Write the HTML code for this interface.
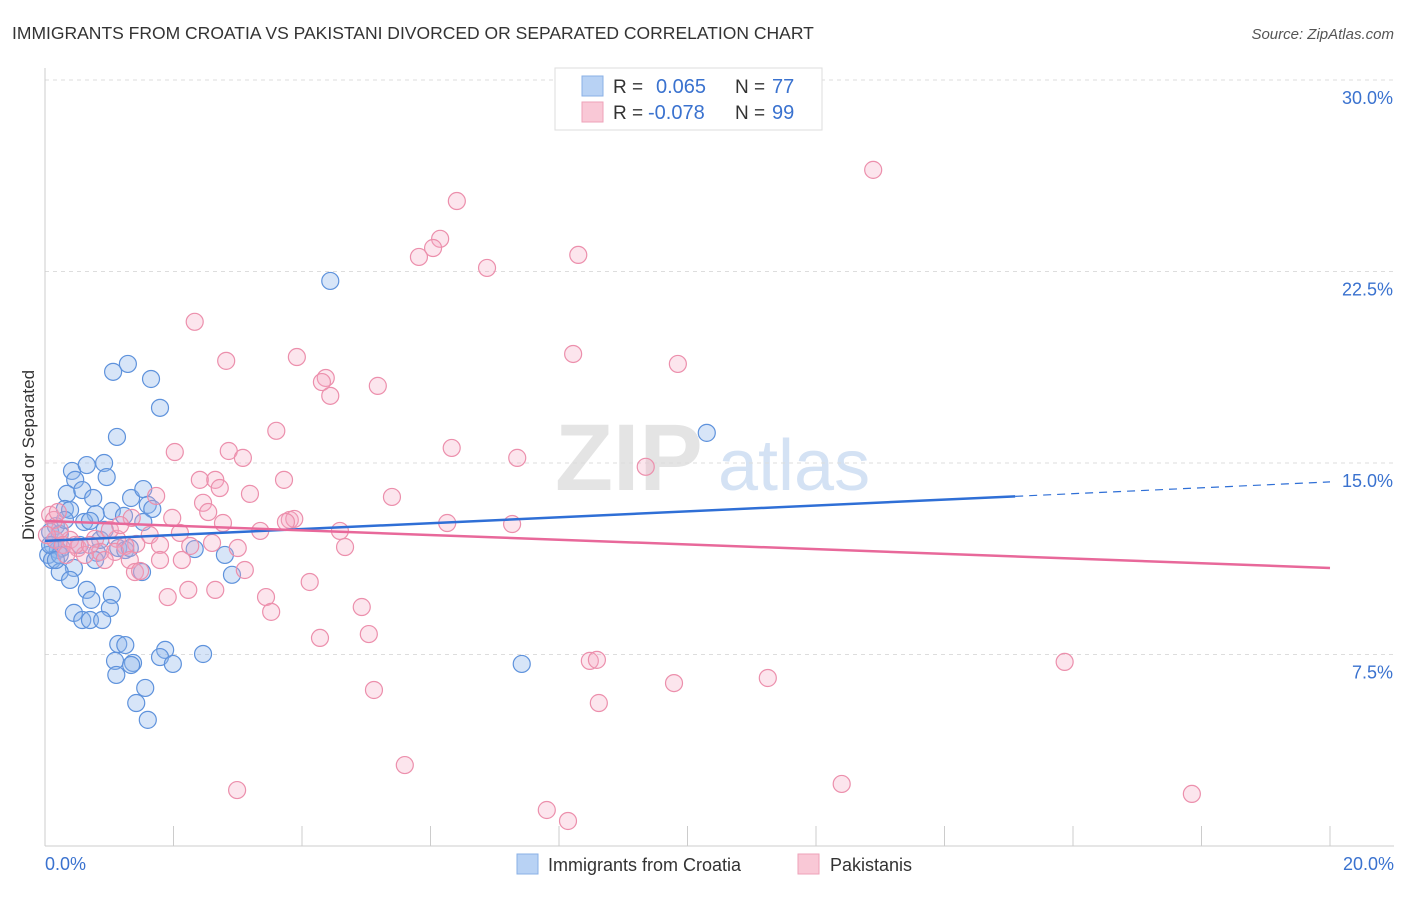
<!DOCTYPE html>
<html><head><meta charset="utf-8"><style>
body{margin:0;background:#fff;font-family:"Liberation Sans",sans-serif;}
svg text{font-family:"Liberation Sans",sans-serif;}
</style></head><body>
<svg id="chart" width="1406" height="892" xmlns="http://www.w3.org/2000/svg">
<text x="12" y="39" font-size="17.5" fill="#333">IMMIGRANTS FROM CROATIA VS PAKISTANI DIVORCED OR SEPARATED CORRELATION CHART</text>
<text x="1394" y="39" font-size="15" fill="#555" font-style="italic" text-anchor="end">Source: ZipAtlas.com</text>
<text x="555" y="490" font-size="95" fill="#e4e4e4" font-family="Liberation Serif" font-weight="bold">ZIP</text>
<text x="718" y="490" font-size="72" fill="#d4e2f4">atlas</text>
<g id="grid"></g>
<g id="axes"></g>
<g id="pts"></g>
<g id="trends"></g>
<text transform="translate(34,455) rotate(-90)" font-size="17" fill="#333" text-anchor="middle">Divorced or Separated</text>
<g>
<rect x="555" y="68" width="267" height="62" fill="#fff" stroke="#ddd"/>
<rect x="582" y="76" width="21" height="20" fill="#b8d2f4" stroke="#8ab0e6"/>
<rect x="582" y="102" width="21" height="20" fill="#f9c8d6" stroke="#eea2b8"/>
<text x="613" y="93" font-size="19" fill="#333">R =</text>
<text x="656" y="93" font-size="20" fill="#3a72cf">0.065</text>
<text x="735" y="93" font-size="19" fill="#333">N =</text>
<text x="772" y="93" font-size="20" fill="#3a72cf">77</text>
<text x="613" y="119" font-size="19" fill="#333">R =</text>
<text x="648" y="119" font-size="20" fill="#3a72cf">-0.078</text>
<text x="735" y="119" font-size="19" fill="#333">N =</text>
<text x="772" y="119" font-size="20" fill="#3a72cf">99</text>
</g>
<g>
<rect x="517" y="854" width="21" height="20" fill="#b8d2f4" stroke="#8ab0e6"/>
<text x="548" y="871" font-size="18" fill="#333">Immigrants from Croatia</text>
<rect x="798" y="854" width="21" height="20" fill="#f9c8d6" stroke="#eea2b8"/>
<text x="830" y="871" font-size="18" fill="#333">Pakistanis</text>
</g>
</svg>
<script>
const blueX=[4.44,1.29,1.06,1.65,1.79,1.12,10.30,.42,.65,.92,.47,.96,.34,.58,.75,1.34,1.53,1.60,.31,.39,.79,1.04,1.23,1.67,.61,.70,1.53,.17,.08,.23,.12,.20,.05,.11,.26,.81,.78,1.14,1.25,1.32,2.33,2.80,.45,.23,.39,1.51,2.91,.65,1.04,.72,.45,1.01,.58,.70,.89,1.14,1.25,1.87,1.79,2.46,1.09,1.37,1.34,1.99,7.42,1.11,1.56,1.42,1.60,.23,.16,.31,.86,.08,.17,.54,.93];
const blueY=[22.13,18.88,18.57,18.29,17.16,16.02,16.18,14.69,14.92,15.00,14.34,14.45,13.79,13.94,13.63,13.63,13.98,13.36,13.20,13.16,13.00,13.12,12.93,13.20,12.69,12.73,12.69,12.53,12.30,12.22,11.79,11.59,11.40,11.20,11.67,11.48,11.20,11.67,11.59,11.67,11.63,11.40,10.89,10.73,10.42,10.73,10.62,10.03,9.83,9.64,9.13,9.32,8.85,8.85,8.85,7.91,7.87,7.68,7.40,7.52,7.25,7.17,7.09,7.13,7.13,6.70,6.19,5.60,4.94,11.40,11.99,12.77,11.99,11.79,11.20,11.79,12.38];
const pinkX=[12.89,6.41,6.15,6.04,5.82,6.88,8.30,2.33,2.82,3.92,8.22,9.85,4.37,4.31,5.18,4.44,3.60,2.02,2.86,6.33,7.35,9.35,3.08,2.41,2.65,3.72,2.72,1.73,3.19,5.40,2.46,2.54,1.98,1.35,2.77,3.81,3.88,3.75,6.26,7.27,4.59,3.35,2.10,1.63,.78,1.12,1.42,1.79,1.25,2.26,3.00,4.67,2.60,.86,1.09,.39,.16,.23,.08,.28,.51,.62,1.32,1.79,2.13,3.11,1.40,1.48,4.12,2.65,1.91,2.23,3.44,3.52,4.93,4.28,5.04,8.48,8.59,15.87,9.79,11.25,5.12,8.62,5.60,2.99,12.40,17.85,7.81,8.14,.47,.70,1.01,.33,.14,1.17,.03,.20,.93];
const pinkY=[26.48,25.26,23.78,23.42,23.07,22.64,23.15,20.53,19.00,19.15,19.27,18.88,18.33,18.17,18.02,17.63,16.26,15.43,15.47,15.59,15.20,14.85,15.20,14.34,14.34,14.34,14.02,13.71,13.79,13.67,13.44,13.08,12.85,12.85,12.65,12.77,12.81,12.69,12.65,12.61,12.34,12.34,12.26,12.18,12.03,12.03,11.83,11.79,11.75,11.75,11.67,11.71,11.87,11.52,11.52,11.99,11.99,12.38,12.97,11.79,11.67,11.40,11.20,11.20,11.20,10.81,10.73,10.77,10.34,10.03,9.75,10.03,9.75,9.17,9.36,8.15,8.30,7.25,7.29,7.21,6.38,6.58,6.11,5.60,3.17,2.19,2.43,2.04,1.41,0.98,11.79,11.79,12.38,11.40,12.77,12.57,12.18,13.08,11.20];
const blueTrend=[11.95,14.26];
const blueSolidEnd=15.1;
const pinkTrend=[12.73,10.89];
const yTicks=[7.5,15.0,22.5,30.0];
const yTickLabels=["7.5%","15.0%","22.5%","30.0%"];
const xTicks=[0,2,4,6,8,10,12,14,16,18,20];
const xTickLabels=["0.0%","20.0%"];

const NS="http://www.w3.org/2000/svg";
const X0=45,X1=1330,Y0=846,Y30=80;
const sx=v=>X0+(X1-X0)*v/20;
const sy=v=>Y0-(Y0-Y30)*v/30;
function mk(tag,attrs,parent){const e=document.createElementNS(NS,tag);for(const k in attrs)e.setAttribute(k,attrs[k]);parent.appendChild(e);return e;}
const grid=document.getElementById('grid'),axes=document.getElementById('axes'),pts=document.getElementById('pts'),tr=document.getElementById('trends');
yTicks.forEach((t,i)=>{
  const l=mk('line',{x1:X0,x2:1394,y1:sy(t),y2:sy(t),stroke:'#ddd','stroke-dasharray':'4,4'},grid);
  
  
  const tx=mk('text',{x:1393,y:sy(t)+24,'font-size':18,fill:'#3a72cf','text-anchor':'end'},axes);
  tx.textContent=yTickLabels[i];
  
  
});
const xa=mk('line',{x1:X0,x2:1394,y1:Y0,y2:Y0,stroke:'#ccc'},axes);


const ya=mk('line',{x1:X0,x2:X0,y1:68,y2:Y0,stroke:'#ccc'},axes);


xTicks.forEach(t=>{
  const l=mk('line',{x1:sx(t),x2:sx(t),y1:Y0,y2:Y0-20,stroke:'#ccc'},axes);
  
  
});
const xl0=mk('text',{x:45,y:870,'font-size':18,fill:'#3a72cf'},axes);xl0.textContent=xTickLabels[0];


const xl1=mk('text',{x:1394,y:870,'font-size':18,fill:'#3a72cf','text-anchor':'end'},axes);xl1.textContent=xTickLabels[1];


blueX.forEach((v,i)=>{
  const c=mk('circle',{cx:sx(v),cy:sy(blueY[i]),r:8.5,fill:'rgba(140,180,236,0.35)',stroke:'#5e92dc','stroke-width':1.2},pts);
  
  
});
pinkX.forEach((v,i)=>{
  const c=mk('circle',{cx:sx(v),cy:sy(pinkY[i]),r:8.5,fill:'rgba(246,170,196,0.3)',stroke:'#ec8fac','stroke-width':1.2},pts);
  
  
});
const bAt=x=>blueTrend[0]+(blueTrend[1]-blueTrend[0])*x/20;
const b1=mk('line',{x1:sx(0),y1:sy(bAt(0)),x2:sx(blueSolidEnd),y2:sy(bAt(blueSolidEnd)),stroke:'#2f6fd6','stroke-width':2.5},tr);


const b2=mk('line',{x1:sx(blueSolidEnd),y1:sy(bAt(blueSolidEnd)),x2:sx(20),y2:sy(bAt(20)),stroke:'#2f6fd6','stroke-width':1.2,'stroke-dasharray':'8,6'},tr);


const p1=mk('line',{x1:sx(0),y1:sy(pinkTrend[0]),x2:sx(20),y2:sy(pinkTrend[1]),stroke:'#e8689a','stroke-width':2.5},tr);


</script>
</body></html>
